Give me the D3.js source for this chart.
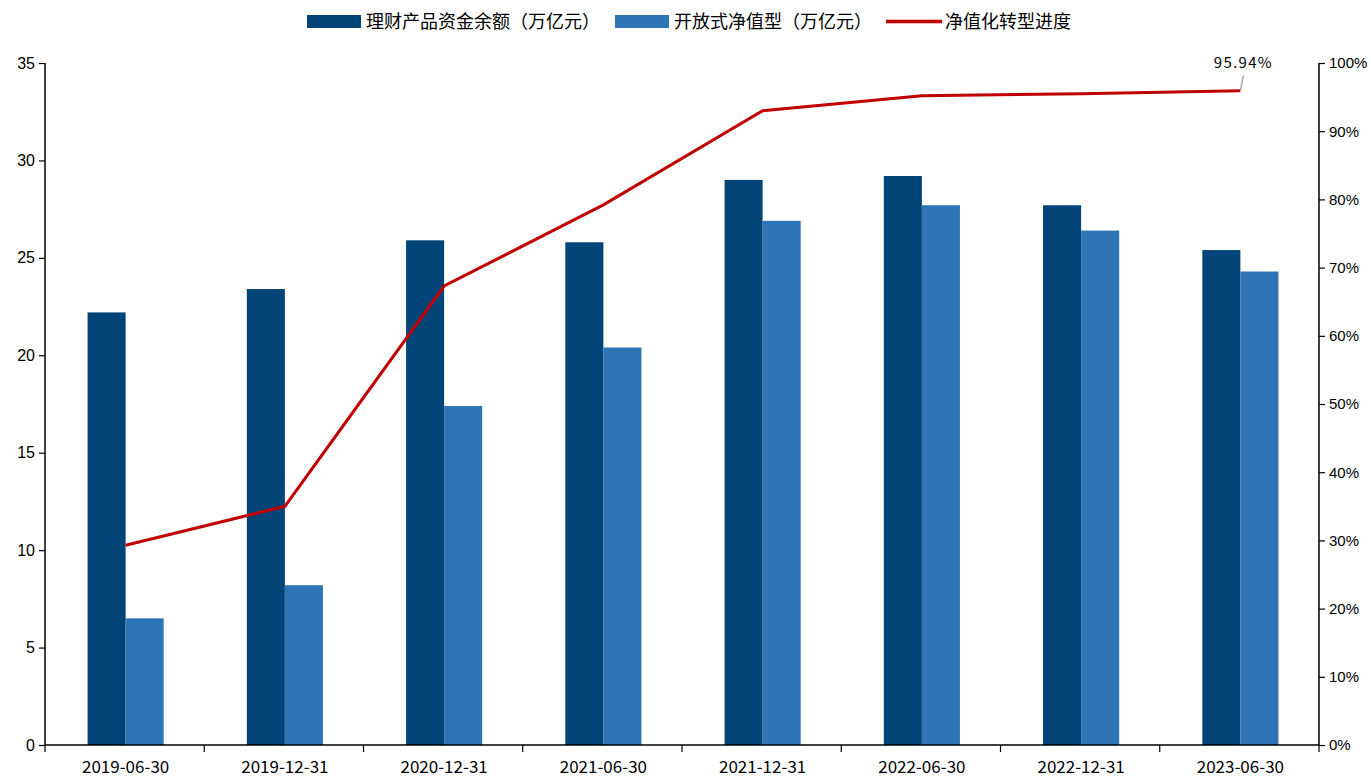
<!DOCTYPE html>
<html>
<head>
<meta charset="utf-8">
<script src="https://cdn.jsdelivr.net/npm/d3@7/dist/d3.min.js"></script>
<style>
  html, body { margin: 0; padding: 0; background: #fff; }
  svg { display: block; }
</style>
</head>
<body>
<svg id="chart" width="1371" height="777"></svg>
<script>
// Reporting dates
const categories = ["2019-06-30", "2019-12-31", "2020-12-31", "2021-06-30",
                    "2021-12-31", "2022-06-30", "2022-12-31", "2023-06-30"];
// Total wealth-management balance (trillion yuan)
const totalBalance = [22.2, 23.4, 25.9, 25.8, 29.0, 29.2, 27.7, 25.4];
// Open-ended net-value products (trillion yuan)
const netValueBalance = [6.5, 8.2, 17.4, 20.4, 26.9, 27.7, 26.4, 24.3];
// Share of net-value transformation (%)
const transformPct = [29.3, 35.0, 67.3, 79.2, 93.0, 95.2, 95.5, 95.94];

const leftTicks = [0, 5, 10, 15, 20, 25, 30, 35];
const rightTicks = [0, 10, 20, 30, 40, 50, 60, 70, 80, 90, 100];

const seriesNames = ["理财产品资金余额（万亿元）", "开放式净值型（万亿元）", "净值化转型进度"];
const colors = { dark: "#014477", light: "#2e75b6", red: "#c00000" };

const svg = d3.select("#chart");
const plotLeft = 45, plotRight = 1319, plotTop = 63, plotBottom = 745;

const x = d3.scaleBand().domain(categories).range([plotLeft, plotRight]).padding(0);
const yL = d3.scaleLinear().domain([0, 35]).range([plotBottom, plotTop]);
const yR = d3.scaleLinear().domain([0, 100]).range([plotBottom, plotTop]);

const barW = x.bandwidth() * 0.239;
const cx = (d) => x(d) + x.bandwidth() / 2 + 1;
const cjk = "'Noto Sans CJK SC', 'Noto Sans', sans-serif";
const latin = "'Liberation Sans', Arial, sans-serif";

// Bars
const g = svg.append("g");
g.selectAll("rect.total").data(categories).join("rect")
  .attr("class", "total")
  .attr("x", (d) => cx(d) - barW)
  .attr("y", (d, i) => yL(totalBalance[i]))
  .attr("width", barW)
  .attr("height", (d, i) => yL(0) - yL(totalBalance[i]))
  .attr("fill", colors.dark);

g.selectAll("rect.netv").data(categories).join("rect")
  .attr("class", "netv")
  .attr("x", (d) => cx(d))
  .attr("y", (d, i) => yL(netValueBalance[i]))
  .attr("width", barW)
  .attr("height", (d, i) => yL(0) - yL(netValueBalance[i]))
  .attr("fill", colors.light);

// Line on the right axis
const line = d3.line()
  .x((d, i) => cx(categories[i]))
  .y((d) => yR(d));
svg.append("path")
  .datum(transformPct)
  .attr("d", line)
  .attr("fill", "none")
  .attr("stroke", colors.red)
  .attr("stroke-width", 3)
  .attr("stroke-linejoin", "miter");

// Axes
const axisL = d3.axisLeft(yL).tickValues(leftTicks).tickSize(6).tickPadding(4);
const axisR = d3.axisRight(yR).tickValues(rightTicks).tickSize(6).tickPadding(4)
  .tickFormat((d) => d + "%");
const axisB = d3.axisBottom(x).tickSize(0).tickPadding(16);

function styleAxis(sel, font, size) {
  sel.select(".domain").attr("stroke", "#000").attr("stroke-width", 1.5);
  sel.selectAll(".tick line").attr("stroke", "#000").attr("stroke-width", 1.2);
  sel.selectAll(".tick text").attr("fill", "#000")
    .style("font-family", font).style("font-size", size + "px");
}

const gL = svg.append("g").attr("transform", `translate(${plotLeft},0)`).call(axisL);
gL.select(".domain").attr("d", `M0,${plotTop}V${plotBottom}`);
styleAxis(gL, latin, 16);

const gR = svg.append("g").attr("transform", `translate(${plotRight},0)`).call(axisR);
gR.select(".domain").attr("d", `M0,${plotTop}V${plotBottom}`);
styleAxis(gR, latin, 15);

const gB = svg.append("g").attr("transform", `translate(1,${plotBottom})`).call(axisB);
gB.select(".domain").attr("d", `M${plotLeft - 1},0H${plotRight - 1}`);
styleAxis(gB, cjk, 17);
gB.selectAll(".tick text").attr("dy", "0.71em");

// Category boundary ticks below the x axis
const boundaries = categories.map((d) => x(d)).concat([plotRight]);
svg.append("g").selectAll("line").data(boundaries).join("line")
  .attr("x1", (d) => d).attr("x2", (d) => d)
  .attr("y1", plotBottom).attr("y2", plotBottom + 7)
  .attr("stroke", "#000").attr("stroke-width", 1.2);

// Last-point label with leader line
const lastI = transformPct.length - 1;
const lx = cx(categories[lastI]);
const ly = yR(transformPct[lastI]);
svg.append("line")
  .attr("x1", lx).attr("y1", ly)
  .attr("x2", lx + 3).attr("y2", ly - 15)
  .attr("stroke", "#a6a6a6").attr("stroke-width", 1.5);
svg.append("text")
  .attr("x", lx + 3).attr("y", ly - 23)
  .attr("text-anchor", "middle")
  .style("font-family", cjk).style("font-size", "15px")
  .style("letter-spacing", "1.3px")
  .attr("fill", "#000")
  .text(transformPct[lastI].toFixed(2) + "%");

// Legend
const legend = svg.append("g").style("font-family", cjk).style("font-size", "18px");
const items = [
  { name: seriesNames[0], type: "rect", color: colors.dark, x: 307 },
  { name: seriesNames[1], type: "rect", color: colors.light, x: 615 },
  { name: seriesNames[2], type: "line", color: colors.red, x: 886 }
];
items.forEach((it) => {
  if (it.type === "rect") {
    legend.append("rect").attr("x", it.x).attr("y", 15).attr("width", 54).attr("height", 13)
      .attr("fill", it.color);
  } else {
    legend.append("line").attr("x1", it.x).attr("x2", it.x + 56).attr("y1", 21.5).attr("y2", 21.5)
      .attr("stroke", it.color).attr("stroke-width", 3.5);
  }
  legend.append("text").attr("x", it.x + 59).attr("y", 21.5).attr("dy", "0.35em")
    .attr("fill", "#000").text(it.name);
});
</script>
</body>
</html>
